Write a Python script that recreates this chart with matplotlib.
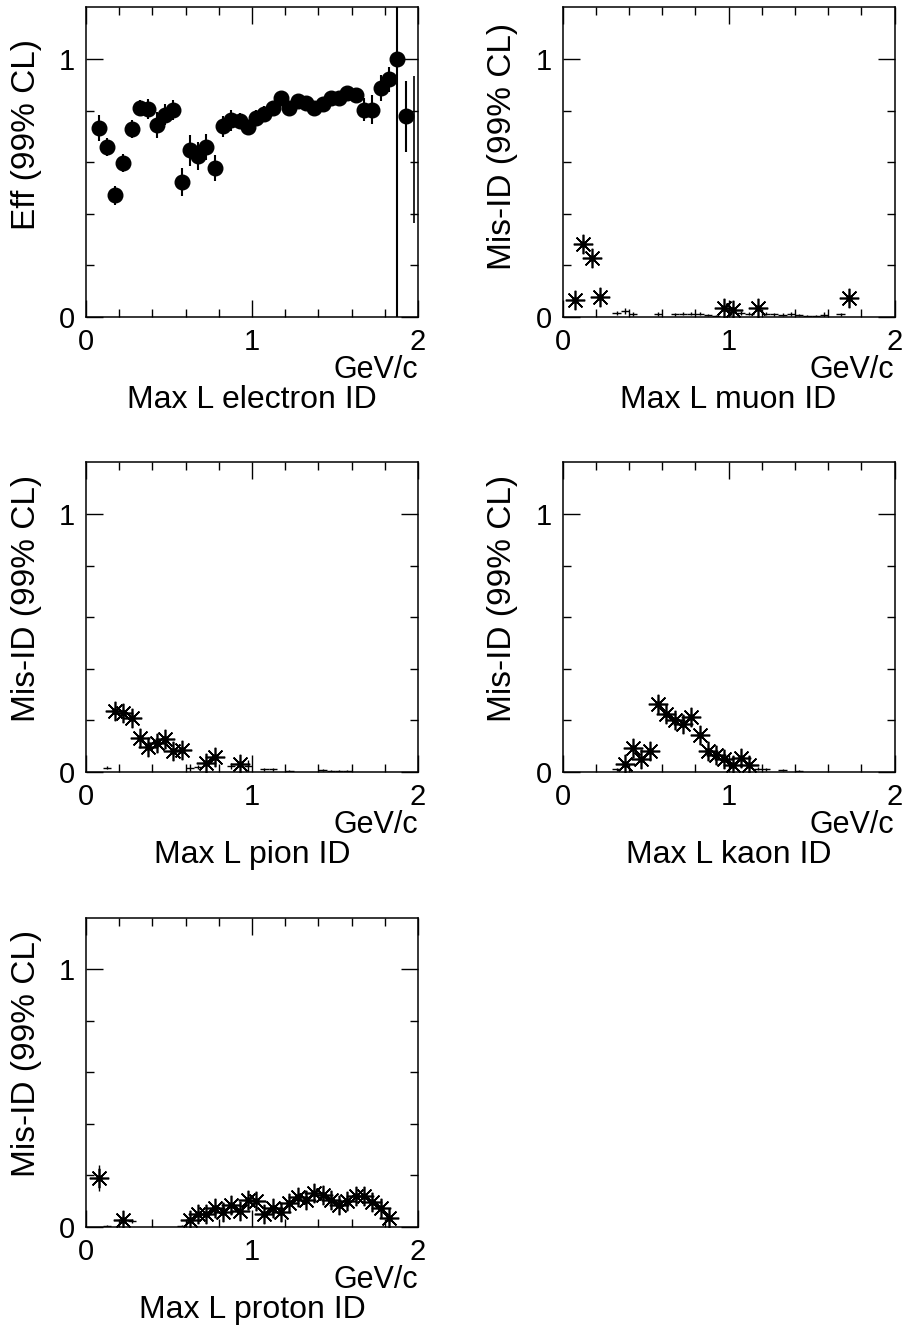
import numpy as np
import matplotlib
matplotlib.use("Agg")
import matplotlib.pyplot as plt

plt.rcParams['font.family'] = ['Liberation Sans', 'DejaVu Sans']

# ---- electron efficiency (filled circles), bin centres 0.075 .. 1.925 ----
e_x = [0.075, 0.125, 0.175, 0.225, 0.275, 0.325, 0.375, 0.425, 0.475, 0.525,
       0.575, 0.625, 0.675, 0.725, 0.775, 0.825, 0.875, 0.925, 0.975, 1.025,
       1.075, 1.125, 1.175, 1.225, 1.275, 1.325, 1.375, 1.425, 1.475, 1.525,
       1.575, 1.625, 1.675, 1.725, 1.775, 1.825, 1.875, 1.925]
e_y = [0.733, 0.658, 0.471, 0.597, 0.729, 0.811, 0.807, 0.743, 0.785, 0.802,
       0.523, 0.646, 0.625, 0.658, 0.577, 0.739, 0.763, 0.759, 0.735, 0.772,
       0.787, 0.811, 0.850, 0.811, 0.839, 0.830, 0.811, 0.824, 0.850, 0.850,
       0.869, 0.862, 0.804, 0.804, 0.888, 0.921, 0.999, 0.778]
e_err = [0.050, 0.035, 0.035, 0.035, 0.035, 0.030, 0.040, 0.050, 0.040, 0.040,
         0.055, 0.060, 0.055, 0.050, 0.050, 0.040, 0.040, 0.030, 0.030, 0.030,
         0.030, 0.020, 0.020, 0.020, 0.020, 0.020, 0.020, 0.020, 0.020, 0.020,
         0.020, 0.020, 0.045, 0.055, 0.050, 0.050, 1.200, 0.137]
# last bin: error bar only, marker not visible
e_x_bar = [1.975]
e_y_bar = [0.650]
e_err_bar = [0.285]

# ---- muon mis-ID ----
mu_star_x = [0.075, 0.125, 0.175, 0.225, 0.975, 1.025, 1.175, 1.725]
mu_star_y = [0.065, 0.283, 0.230, 0.078, 0.033, 0.029, 0.033, 0.074]
mu_star_err = [0.015, 0.020, 0.020, 0.015, 0.010, 0.010, 0.010, 0.020]
mu_plus_x = [0.325, 0.375, 0.425, 0.575, 0.675, 0.725, 0.775, 0.825, 0.875,
             0.925, 1.075, 1.125, 1.225, 1.275, 1.325, 1.375, 1.425, 1.475,
             1.525, 1.575, 1.675]
mu_plus_y = [0.017, 0.022, 0.013, 0.013, 0.010, 0.012, 0.012, 0.012, 0.008,
             0.005, 0.015, 0.013, 0.012, 0.010, 0.009, 0.010, 0.006, 0.005,
             0.004, 0.006, 0.010]
mu_plus_err = [0.008, 0.012, 0.008, 0.008, 0.006, 0.006, 0.006, 0.006, 0.005,
               0.004, 0.008, 0.006, 0.006, 0.006, 0.005, 0.008, 0.004, 0.004,
               0.004, 0.014, 0.006]

# ---- pion mis-ID ----
pi_star_x = [0.175, 0.225, 0.275, 0.325, 0.375, 0.425, 0.475, 0.525, 0.575,
             0.725, 0.775, 0.925]
pi_star_y = [0.235, 0.230, 0.210, 0.132, 0.097, 0.112, 0.129, 0.081, 0.084,
             0.036, 0.058, 0.030]
pi_star_err = [0.015, 0.015, 0.015, 0.015, 0.015, 0.015, 0.015, 0.015, 0.015,
               0.012, 0.015, 0.012]
pi_plus_x = [0.125, 0.625, 0.675, 0.875, 0.975, 1.075, 1.125, 1.225, 1.425,
             1.475, 1.525, 1.575]
pi_plus_y = [0.017, 0.017, 0.019, 0.023, 0.023, 0.010, 0.010, 0.003, 0.006,
             0.005, 0.004, 0.003]
pi_plus_err = [0.006, 0.012, 0.008, 0.010, 0.025, 0.005, 0.005, 0.003, 0.004,
               0.003, 0.003, 0.003]

# ---- kaon mis-ID ----
k_star_x = [0.375, 0.425, 0.475, 0.525, 0.575, 0.625, 0.675, 0.725, 0.775,
            0.825, 0.875, 0.925, 0.975, 1.025, 1.075, 1.125]
k_star_y = [0.032, 0.091, 0.049, 0.082, 0.262, 0.223, 0.201, 0.184, 0.214,
            0.145, 0.080, 0.067, 0.049, 0.026, 0.054, 0.028]
k_star_err = [0.012, 0.015, 0.012, 0.015, 0.020, 0.015, 0.015, 0.015, 0.015,
              0.015, 0.012, 0.012, 0.012, 0.010, 0.012, 0.010]
k_plus_x = [0.325, 1.175, 1.225, 1.325, 1.425]
k_plus_y = [0.010, 0.012, 0.010, 0.006, 0.003]
k_plus_err = [0.005, 0.006, 0.005, 0.004, 0.003]

# ---- proton mis-ID ----
p_star_x = [0.075, 0.225, 0.625, 0.675, 0.725, 0.775, 0.825, 0.875, 0.925,
            0.975, 1.025, 1.075, 1.125, 1.175, 1.225, 1.275, 1.325, 1.375,
            1.425, 1.475, 1.525, 1.575, 1.625, 1.675, 1.725, 1.775, 1.825]
p_star_y = [0.190, 0.026, 0.028, 0.049, 0.049, 0.074, 0.058, 0.084, 0.061,
            0.103, 0.100, 0.049, 0.074, 0.058, 0.094, 0.116, 0.106, 0.132,
            0.123, 0.103, 0.084, 0.101, 0.119, 0.119, 0.097, 0.074, 0.036]
p_star_err = [0.050, 0.015, 0.012, 0.012, 0.012, 0.012, 0.012, 0.012, 0.012,
              0.015, 0.015, 0.012, 0.012, 0.012, 0.015, 0.015, 0.015, 0.015,
              0.015, 0.015, 0.015, 0.015, 0.015, 0.015, 0.015, 0.015, 0.020]
p_plus_x = [0.125, 0.275, 0.575]
p_plus_y = [0.004, 0.023, 0.005]
p_plus_err = [0.003, 0.008, 0.004]

half_bin = 0.025
FS_TICK = 21
FS_LAB = 23
FS_YLAB = 24

fig = plt.figure(figsize=(9.06, 13.33), dpi=100)

cols = [0.095, 0.621]
rows = [0.7622, 0.4209, 0.0795]
w, h = 0.3664, 0.2322


def style_axes(ax, ylabel, xlabel, ylab_y):
    ax.set_xlim(0, 2)
    ax.set_ylim(0, 1.2)
    ax.set_xticks([0, 1, 2])
    ax.set_xticklabels(['0', '1', '2'])
    ax.set_yticks([0, 1])
    ax.set_yticklabels(['0', '1'])
    ax.set_xticks(np.arange(0.2, 2.0, 0.2), minor=True)
    ax.set_yticks(np.arange(0.2, 1.2, 0.2), minor=True)
    ax.tick_params(which='both', direction='in', top=True, right=True,
                   labelsize=FS_TICK, pad=8, width=1.0, color='black')
    ax.tick_params(which='major', length=12)
    ax.tick_params(which='minor', length=6)
    for s in ax.spines.values():
        s.set_linewidth(1.1)
    ax.annotate('GeV/c', xy=(1, 0), xycoords='axes fraction',
                xytext=(0, -38), textcoords='offset points',
                ha='right', va='center', fontsize=22)
    ax.annotate(xlabel, xy=(0.5, 0), xycoords='axes fraction',
                xytext=(0, -60), textcoords='offset points',
                ha='center', va='center', fontsize=FS_LAB)
    ax.annotate(ylabel, xy=(0, ylab_y), xycoords='axes fraction',
                xytext=(-43, 0), textcoords='offset points',
                ha='center', va='center', rotation=90, fontsize=FS_YLAB)


def draw_misid(ax, sx, sy, se, px, py, pe):
    ax.errorbar(px, py, yerr=pe, xerr=half_bin, fmt='none',
                ecolor='black', elinewidth=1.0, capsize=0)
    ax.errorbar(sx, sy, yerr=se, xerr=half_bin, fmt='none',
                ecolor='black', elinewidth=1.0, capsize=0)
    ax.plot(sx, sy, linestyle='none', marker=(8, 2, 0), markersize=14,
            markeredgewidth=1.2, color='black')
    ax.plot(sx, sy, linestyle='none', marker='o', markersize=3.5,
            color='black')


# electron
ax = fig.add_axes([cols[0], rows[0], w, h])
ax.errorbar(e_x, e_y, yerr=e_err, fmt='o', color='black', markersize=10.5,
            elinewidth=1.5, capsize=0)
ax.errorbar(e_x_bar, e_y_bar, yerr=e_err_bar, fmt='none', ecolor='black',
            elinewidth=1.2, capsize=0)
style_axes(ax, 'Eff (99% CL)', 'Max L electron ID', 0.59)

# muon
ax = fig.add_axes([cols[1], rows[0], w, h])
draw_misid(ax, mu_star_x, mu_star_y, mu_star_err, mu_plus_x, mu_plus_y, mu_plus_err)
style_axes(ax, 'Mis-ID (99% CL)', 'Max L muon ID', 0.55)

# pion
ax = fig.add_axes([cols[0], rows[1], w, h])
draw_misid(ax, pi_star_x, pi_star_y, pi_star_err, pi_plus_x, pi_plus_y, pi_plus_err)
style_axes(ax, 'Mis-ID (99% CL)', 'Max L pion ID', 0.56)

# kaon
ax = fig.add_axes([cols[1], rows[1], w, h])
draw_misid(ax, k_star_x, k_star_y, k_star_err, k_plus_x, k_plus_y, k_plus_err)
style_axes(ax, 'Mis-ID (99% CL)', 'Max L kaon ID', 0.56)

# proton
ax = fig.add_axes([cols[0], rows[2], w, h])
draw_misid(ax, p_star_x, p_star_y, p_star_err, p_plus_x, p_plus_y, p_plus_err)
style_axes(ax, 'Mis-ID (99% CL)', 'Max L proton ID', 0.56)

fig.savefig('out.png', dpi=100)
